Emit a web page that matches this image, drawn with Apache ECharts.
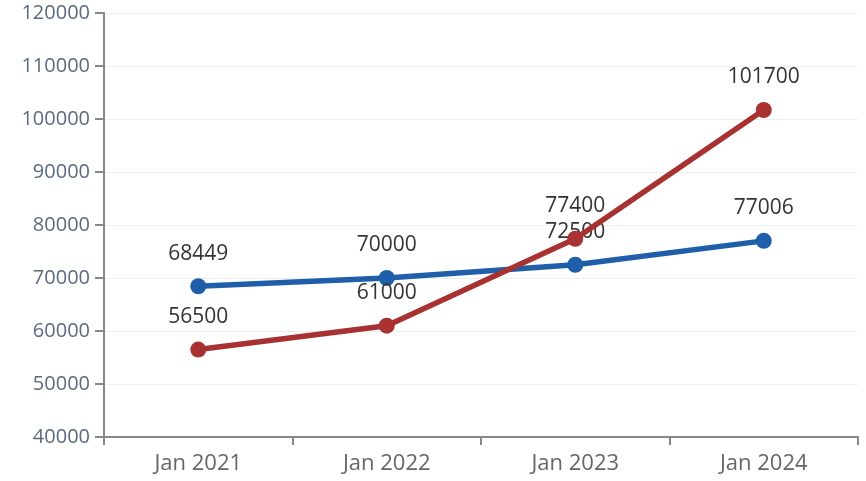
<!DOCTYPE html>
<html><head><meta charset="utf-8">
<script src="https://cdn.jsdelivr.net/npm/echarts@6/dist/echarts.min.js"></script>
<style>html,body{margin:0;padding:0;background:#fff}#c{width:866px;height:481px}</style>
</head><body><div id="c"></div>
<script>
const categories = ['Jan 2021', 'Jan 2022', 'Jan 2023', 'Jan 2024'];
const blueValues = [68449, 70000, 72500, 77006];
const redValues = [56500, 61000, 77400, 101700];
const yMin = 40000, yMax = 120000, yStep = 10000;

const chart = echarts.init(document.getElementById('c'));
const lbl = {show: true, position: 'top', distance: 14, color: '#333', fontSize: 21, fontFamily: 'Open Sans'};
chart.setOption({
  animation: false,
  grid: {left: 104, right: 8, top: 13, bottom: 44},
  xAxis: {
    type: 'category', data: categories, boundaryGap: true,
    axisLine: {lineStyle: {color: '#888', width: 2}},
    axisTick: {show: true, length: 8, lineStyle: {color: '#888', width: 2}},
    axisLabel: {color: '#666', fontSize: 22, fontFamily: 'Open Sans', margin: 16}
  },
  yAxis: {
    type: 'value', min: yMin, max: yMax, interval: yStep,
    axisLine: {show: true, lineStyle: {color: '#888', width: 2}},
    axisTick: {show: true, length: 9, lineStyle: {color: '#888', width: 2}},
    axisLabel: {color: '#5b6a80', fontSize: 20, fontFamily: 'Open Sans', margin: 14,
      formatter: v => String(v)},
    splitLine: {lineStyle: {color: '#eeeeee', width: 1}}
  },
  series: [
    {type: 'line', data: blueValues, symbol: 'circle', symbolSize: 16,
     lineStyle: {color: '#1f5ea8', width: 5.5}, itemStyle: {color: '#1f5ea8'}, label: lbl, z: 2},
    {type: 'line', data: redValues, symbol: 'circle', symbolSize: 16,
     lineStyle: {color: '#a83232', width: 5.5}, itemStyle: {color: '#a83232'}, label: lbl, z: 3}
  ]
});
</script></body></html>
